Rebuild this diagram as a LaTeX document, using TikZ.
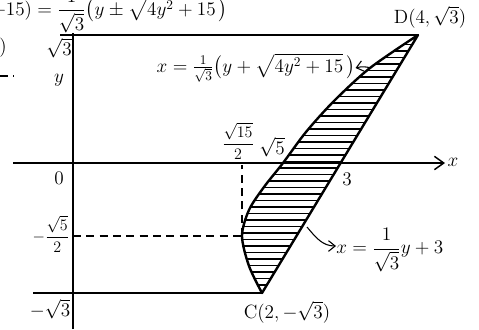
\documentclass[tikz,border=0pt]{standalone}
\usepackage{amsmath}
\usepackage{amssymb}
\usepackage{xcolor}
\usetikzlibrary{arrows.meta}

\begin{document}
\begin{tikzpicture}[x=0.75pt,y=-0.75pt,
    axis/.style={line width=1.1pt},
    bound/.style={line width=1.8pt, line join=round},
    guide/.style={line width=0.9pt, dash pattern=on 6pt off 4pt},
    hatchline/.style={line width=0.8pt},
    lbl/.style={font=\Large, inner sep=0pt},
    small/.style={font=\large, inner sep=0pt},
    pointer/.style={line width=0.8pt, -{Straight Barb[length=5pt,width=8pt]}}]
    \useasboundingbox (0,0) rectangle (479,329);
    \clip (0,0) rectangle (479,329);

    \coordinate (O) at (73,163);
    \coordinate (C) at (262,293);
    \coordinate (D) at (418,35);
    \coordinate (V) at (242,236);
    \def\region{plot[smooth] coordinates {(262,293) (249,266) (242,236) (249,210) (264,187) (283,163) (306,132) (334,101) (370,68) (418,35)} -- (C)}

    % hatching of the region
    \begin{scope}
      \clip \region -- cycle;
      \foreach \y in {38,44.5,...,292}
        \draw[hatchline] (230,\y) -- (425,\y);
    \end{scope}
    \draw[bound] \region -- cycle;

    % axes and guide lines
    \draw[axis, -{Straight Barb[length=7pt,width=10pt]}] (13,163) -- (445,163);
    \draw[axis] (73,329) -- (73,33);
    \draw[axis] (60,35) -- (D);
    \draw[axis] (33,293) -- (C);
    \draw[guide] (73,236) -- (V);
    \draw[guide] (V) -- (242,165);
    \draw[guide] (0,76) -- (14,76);

    % labels
    \node[lbl, anchor=base west] (topeq) at (-9,15) {$+15)=\dfrac{1}{\sqrt{3}}\bigl(y\pm\sqrt{4y^2+15}\,\bigr)$};
    \node[lbl] (frag) at (3,48) {$)$};
    \node[lbl] (Dlab) at (430,17) {D$(4,\sqrt{3})$};
    \node[lbl] (Clab) at (287,312) {C$(2,-\sqrt{3})$};
    \node[lbl] (ytop) at (59,48) {$\sqrt{3}$};
    \node[lbl] (ylab) at (59,80) {$y$};
    \node[lbl] (xlab) at (453,162) {$x$};
    \node[lbl] (zero) at (59,178) {$0$};
    \node[lbl] (three) at (347,179) {$3$};
    \node[lbl] (sqf) at (272,147) {$\sqrt{5}$};
    \node[small] (vx) at (238,141) {$\dfrac{\sqrt{15}}{2}$};
    \node[small] (vy) at (51,234) {$-\dfrac{\sqrt{5}}{2}$};
    \node[lbl] (ybot) at (50,309) {$-\sqrt{3}$};
    \node[lbl] (eqA) at (256,68) {$x=\frac{1}{\sqrt{3}}\bigl(y+\sqrt{4y^2+15}\,\bigr)$};
    \node[lbl, anchor=west] (eqB) at (336,250) {$x=\dfrac{1}{\sqrt{3}}y+3$};

    \draw[pointer] (371,68) to[bend right=15] (eqA.east);
    \draw[pointer] (307,227) to[out=-50,in=180] ([yshift=3pt]eqB.west);
\end{tikzpicture}
\end{document}
